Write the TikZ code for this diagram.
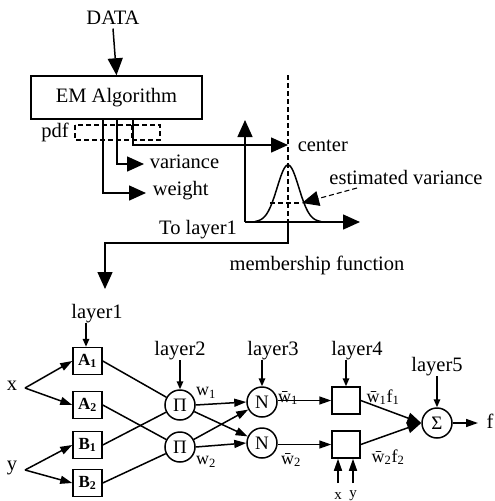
\documentclass[tikz,border=0pt]{standalone}
\usepackage{fontspec}
\setmainfont{Liberation Serif}
\usetikzlibrary{arrows.meta}
\begin{document}
\begin{tikzpicture}[x=1pt,y=-1pt,line width=1.5pt,
  every node/.style={font=\fontsize{20.5}{22}\selectfont, inner sep=0pt},
  big/.style={-{Triangle[length=17pt,width=15pt]}},
  sml/.style={-{Triangle[length=12pt,width=8pt]}},
  lyr/.style={-{Triangle[length=8pt,width=6.5pt]}},
  dsh/.style={dash pattern=on 5pt off 3pt, line width=1.1pt},
  sq/.style={draw, minimum width=29pt, minimum height=27pt, font=\fontsize{17}{19}\selectfont\bfseries},
  neuron/.style={draw, circle, minimum size=30pt, font=\fontsize{19}{21}\selectfont},
  lbl/.style={font=\fontsize{18}{20}\selectfont}]
\useasboundingbox (0,0) rectangle (495,501);

% ---- top part ----
\node (data) at (113,18) {DATA};
\node[draw, minimum width=171pt, minimum height=43pt] (em) at (116.5,97.5) {EM Algorithm};
\draw[big] (data.south) ++(0,3) -- (em.north);
\draw[dsh] (75,125) rectangle (160,140);
\draw[dsh] (132,125) -- (132,140);
\node (pdf) at (55,132) {pdf};

\coordinate (o1) at (103,119);
\coordinate (o2) at (117,119);
\coordinate (o3) at (133,119);
\coordinate (wt) at (146,193);
\coordinate (vr) at (144,164);
\coordinate (ct) at (288,145);
\draw[big] (o1) |- (wt);
\draw[big] (o2) |- (vr);
\draw[big] (o3) |- (ct);
\node[anchor=west] (weight) at (152,191) {weight};
\node[anchor=west] (variance) at (149,162) {variance};
\node[anchor=west] (center) at (297,146) {center};

% membership function axes
\coordinate (orig) at (245,222);
\coordinate (ytop) at (245,120);
\coordinate (xend) at (360,222);
\draw[big] (orig) -- (ytop);
\draw[big] (orig) -- (xend);
\coordinate (ctop) at (288,75);
\coordinate (cbase) at (288,222);
\draw[dsh] (ctop) -- (cbase);
\draw plot[domain=-33:33, samples=70, smooth] ({288+\x},{222-57*exp(-(\x*\x)/233)});
\draw[dsh] (270,203) -- (302,203);
\coordinate (evs) at (357,188);
\coordinate (evt) at (302,203);
\draw[big, dsh] (evs) -- (evt);
\node (ev) at (406,177) {estimated variance};
\coordinate (down) at (105,289);
\draw[big] (cbase) -- (288,243) -| (down);
\node (tol) at (198,230) {To layer1};
\node (mf) at (317,265) {membership function};

% ---- network ----
\node (l1) at (97,314) {layer1};
\node[sq] (A1) at (87.5,361) {A\textsubscript{1}};
\node[sq] (A2) at (87.5,405) {A\textsubscript{2}};
\node[sq] (B1) at (87.5,445) {B\textsubscript{1}};
\node[sq] (B2) at (87.5,483) {B\textsubscript{2}};
\draw[lyr] (86,323) -- (A1.north -| 86,0);

\node (x) at (12,386) {x};
\node (y) at (12,468) {y};
\coordinate (xs) at (25,388);
\coordinate (ys) at (25,470);
\draw[sml] (xs) -- (A1.west);
\draw[sml] (xs) -- (A2.west);
\draw[sml] (ys) -- (B1.west);
\draw[sml] (ys) -- (B2.west);

\node[neuron] (P1) at (180,405) {Π};
\node[neuron] (P2) at (180,447) {Π};
\node (l2) at (180,351) {layer2};
\draw[lyr] (180,360) -- (P1.north);
\draw (A1.east) -- (P1);
\draw (B1.east) -- (P1);
\draw (A2.east) -- (P2);
\draw (B2.east) -- (P2);
\node[lbl] (w1) at (206,393) {w\textsubscript{1}};
\node[lbl] (w2) at (206,462) {w\textsubscript{2}};

\node[neuron] (N1) at (262,402) {N};
\node[neuron] (N2) at (262,443) {N};
\node (l3) at (273,351) {layer3};
\draw[lyr] (262,360) -- (N1.north);
\draw[sml] (P1.east) -- (N1.west);
\draw[sml] (P1) -- (N2);
\draw[sml] (P2) -- (N1);
\draw[sml] (P2.east) -- (N2.west);
\node[lbl] (wb1) at (288,398) {\={w}\textsubscript{1}};
\node[lbl] (wb2) at (291,460) {\={w}\textsubscript{2}};

\node[draw, minimum width=28pt, minimum height=27pt] (S1) at (346,400.5) {};
\node[draw, minimum width=28pt, minimum height=27pt] (S2) at (346,444.5) {};
\node (l4) at (357,351) {layer4};
\draw[lyr] (346,360) -- (S1.north);
\draw[sml] (N1.east |- S1.west) -- (S1.west);
\draw[sml] (N2.east |- S2.west) -- (S2.west);
\node[lbl] (f1) at (383,397) {\={w}\textsubscript{1}f\textsubscript{1}};
\node[lbl] (f2) at (388,457) {\={w}\textsubscript{2}f\textsubscript{2}};
\coordinate (xi) at (338,483);
\coordinate (yi) at (353,483);
\draw[sml] (xi) -- (xi |- S2.south);
\draw[sml] (yi) -- (yi |- S2.south);
\node[font=\fontsize{15}{16}\selectfont, anchor=base] (xl) at (338,499) {x};
\node[font=\fontsize{15}{16}\selectfont, anchor=base] (yl) at (353,497) {y};

\node[neuron] (Sg) at (437,423) {Σ};
\node (l5) at (437,367) {layer5};
\draw[lyr] (437,376) -- (Sg.north);
\draw[-{Triangle[length=14pt,width=11pt]}] (S1.east) -- (Sg.west);
\draw[-{Triangle[length=14pt,width=11pt]}] (S2.east) -- (Sg.west);
\coordinate (fo) at (478,423);
\draw[sml] (Sg.east) -- (fo);
\node (f) at (490,421) {f};
\end{tikzpicture}
\end{document}
